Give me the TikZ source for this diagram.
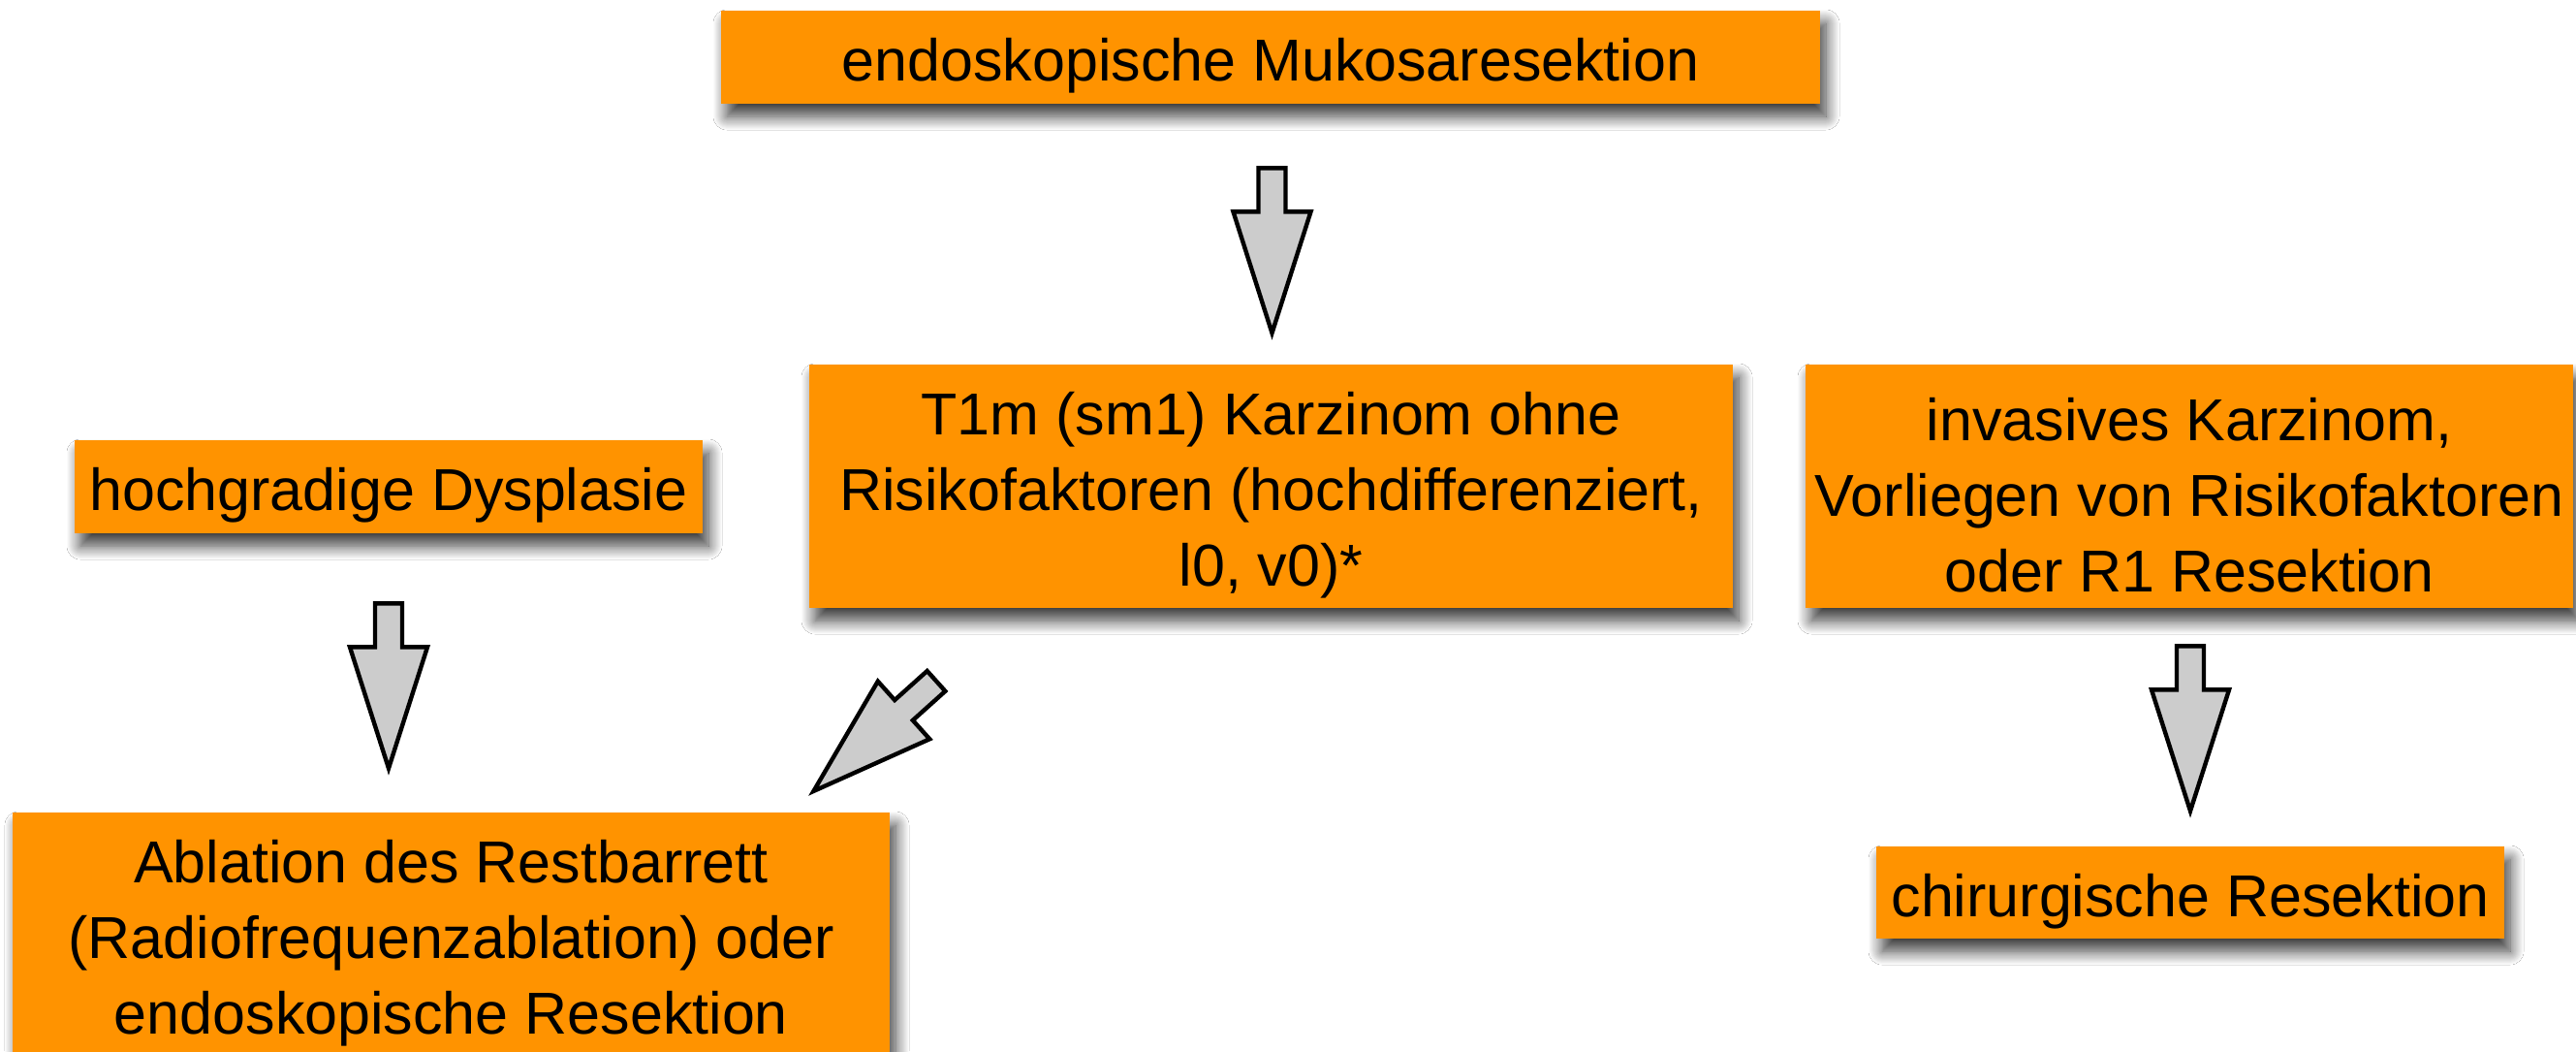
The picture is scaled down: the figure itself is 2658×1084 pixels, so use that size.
\documentclass[tikz,border=0pt]{standalone}
\usepackage{fontspec}
\setmainfont{Liberation Sans}
\usetikzlibrary{calc,shadows.blur}
\definecolor{boxorange}{RGB}{255,147,0}
\definecolor{arrowgray}{RGB}{204,204,204}
\begin{document}
\begin{tikzpicture}[x=0.5pt,y=-0.5pt,
  box/.style={fill=boxorange, inner sep=0pt,
    blur shadow={shadow xshift=3pt, shadow yshift=-6.5pt, shadow blur radius=7pt, shadow blur steps=14, shadow opacity=78}},
  boxtext/.style={align=center, inner sep=0pt, yshift=-4.5pt,
    font=\fontsize{30.5}{39}\selectfont},
  arrowshape/.style={fill=arrowgray, draw=black, line width=2.2pt, line join=miter},
  blockarr/.pic={\path[arrowshape] (-14,0) -- (14,0) -- (14,45) -- (40,45) -- (0,170) -- (-40,45) -- (-14,45) -- cycle;}
]
\useasboundingbox (0,0) rectangle (2658,1084);
\fill[white] (0,0) rectangle (2658,1084);

\node[box, minimum width=567pt, minimum height=48pt,
  label={[boxtext]center:endoskopische Mukosaresektion}] (top) at (1311,59) {};
\node[box, minimum width=324pt, minimum height=48pt,
  label={[boxtext]center:hochgradige Dysplasie}] (hoch) at (401,502) {};
\node[box, minimum width=476.5pt, minimum height=125.5pt,
  label={[boxtext]center:T1m (sm1) Karzinom ohne\\Risikofaktoren (hochdifferenziert,\\l0, v0)*}] (t1m) at (1311.5,501.5) {};
\node[box, minimum width=396pt, minimum height=125.5pt,
  label={[boxtext]center:invasives Karzinom,\\Vorliegen von Risikofaktoren\\oder R1 Resektion}] (inv) at (2259,501.5) {};
\node[box, minimum width=452.5pt, minimum height=126pt,
  label={[boxtext]center:Ablation des Restbarrett\\(Radiofrequenzablation) oder\\endoskopische Resektion}] (abl) at (465.5,964) {};
\node[box, minimum width=324pt, minimum height=47.5pt,
  label={[boxtext]center:chirurgische Resektion}] (chir) at (2260,920.5) {};

% block arrows (connectors)
\coordinate (a1) at ($(top.south)+(1.5,66)$);
\coordinate (a2) at ($(hoch.south)+(0,72)$);
\coordinate (a3) at ($(inv.south)+(1,39)$);
\coordinate (a4) at ($(t1m.south)+(-345.5,75)$);
\pic at (a1) {blockarr};
\pic at (a2) {blockarr};
\pic at (a3) {blockarr};
\pic[rotate=-48.1] at (a4) {blockarr};
\end{tikzpicture}
\end{document}
